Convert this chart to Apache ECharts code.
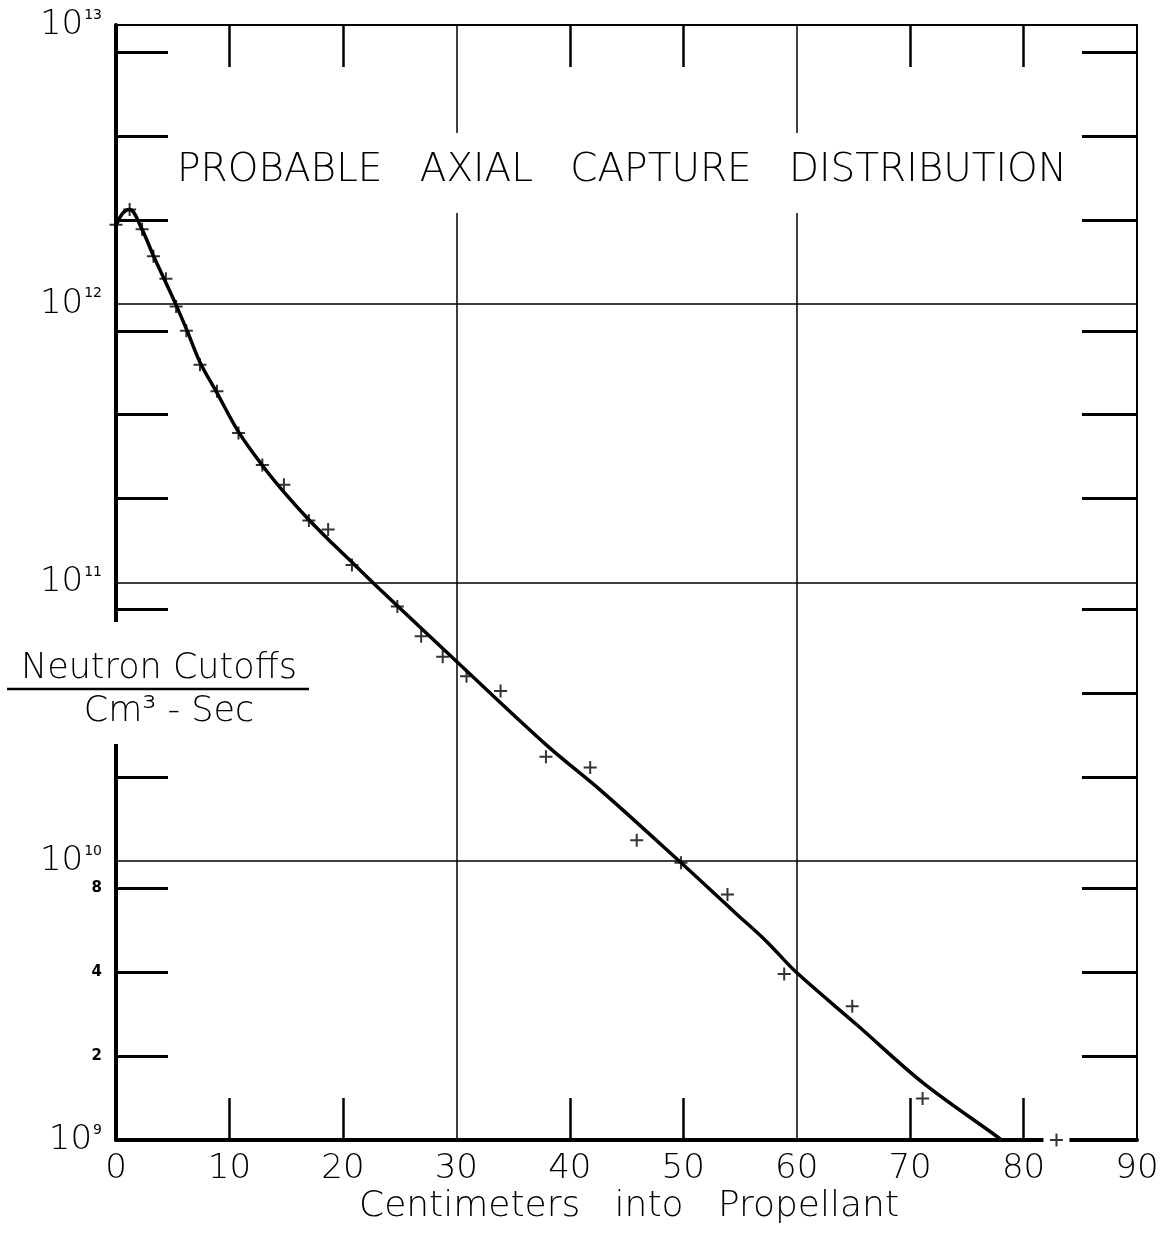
<!DOCTYPE html>
<html>
<head>
<meta charset="utf-8">
<title>Probable Axial Capture Distribution</title>
<script src="https://cdn.jsdelivr.net/npm/echarts@6/dist/echarts.min.js"></script>
<style>
  html, body { margin: 0; padding: 0; background: #fff; }
  #chart { width: 1172px; height: 1235px; }
</style>
</head>
<body>
<div id="chart"></div>
<script>
// Smooth fitted curve: depth (cm) and capture rate (cutoffs / cm^3-sec)
const curveDepth = [0, 0.6, 1.2, 2.3, 3.3, 4.4, 5.3, 6.3, 7.4, 8.9, 10.8, 12.9, 15.0, 17.0, 19.2,
  21.0, 23.3, 30, 38, 42.7, 49.5, 54.5, 57.3, 59.9, 65.4, 71.2, 77.8, 78];
const curveRate = [1.905e12, 2.113e12, 2.178e12, 1.845e12, 1.486e12, 1.189e12, 9.89e11, 7.94e11,
  6.17e11, 4.79e11, 3.47e11, 2.63e11, 2.065e11, 1.679e11, 1.365e11, 1.161e11, 9.42e10, 5.22e10,
  2.60e10, 1.80e10, 1.014e10, 6.58e9, 5.18e9, 4.02e9, 2.57e9, 1.596e9, 1.019e9, 1.0e9];

// Measured points (+)
const pointDepth = [0, 1.2, 2.3, 3.3, 4.4, 5.3, 6.2, 7.4, 8.9, 10.8, 12.9, 14.8, 17.0, 18.7, 20.8,
  24.8, 26.9, 28.8, 30.9, 33.9, 37.9, 41.8, 45.9, 49.8, 53.9, 58.9, 64.9, 71.1, 82.9];
const pointRate = [1.92e12, 2.18e12, 1.85e12, 1.48e12, 1.23e12, 9.77e11, 8.0e11, 6.04e11, 4.85e11,
  3.44e11, 2.64e11, 2.24e11, 1.67e11, 1.55e11, 1.156e11, 8.2e10, 6.41e10, 5.41e10, 4.61e10, 4.08e10,
  2.37e10, 2.17e10, 1.19e10, 9.87e9, 7.6e9, 3.94e9, 3.02e9, 1.41e9, 1.0e9];

// Axis ticks and labels
const xTickValues = [10, 20, 40, 50, 70, 80];
const yDecadeLabels = [1e9, 1e10, 1e11, 1e12, 1e13];
const yMinorLabels = [2e9, 4e9, 8e9];
const yTicks = [2e9, 4e9, 8e9, 2e10, 4e10, 8e10, 2e11, 4e11, 8e11, 2e12, 4e12, 8e12];

const FONT = "'DejaVu Sans', sans-serif";
const INK = '#000';

const chart = echarts.init(document.getElementById('chart'), null, { renderer: 'canvas' });

const plusSymbol = 'path://M5.5,0H7.5V5.5H13V7.5H7.5V13H5.5V7.5H0V5.5H5.5Z';

function yLabel(v) {
  const e = Math.round(Math.log10(v));
  if (Math.abs(v - Math.pow(10, e)) / v < 1e-6) {
    return '{b|10}{e|' + e + '}';
  }
  return '{s|' + Math.round(v / 1e9) + '}';
}

const plotBox = { left: 116, right: 35, top: 25, bottom: 95, containLabel: false };

const option = {
  backgroundColor: '#fff',
  animation: false,
  // grid 0 carries the frame, ticks and data; grid 1 only draws the guide lines
  grid: [Object.assign({}, plotBox), Object.assign({}, plotBox)],
  xAxis: [
    {
      gridIndex: 0, type: 'value', position: 'bottom', min: 0, max: 90, interval: 10,
      axisLine: { show: true, onZero: false, lineStyle: { color: INK, width: 4 } },
      axisTick: { show: true, inside: true, length: 42, customValues: xTickValues,
        lineStyle: { color: INK, width: 2.5 } },
      axisLabel: { show: true, margin: 12, color: INK, fontSize: 34, fontFamily: FONT, fontWeight: 200 },
      splitLine: { show: false }
    },
    {
      gridIndex: 0, type: 'value', position: 'top', min: 0, max: 90, interval: 10,
      axisLine: { show: true, onZero: false, lineStyle: { color: INK, width: 2 } },
      axisTick: { show: true, inside: true, length: 42, customValues: xTickValues,
        lineStyle: { color: INK, width: 2.5 } },
      axisLabel: { show: false },
      splitLine: { show: false }
    },
    {
      gridIndex: 1, type: 'value', position: 'bottom', min: 0, max: 90, interval: 30,
      axisLine: { show: false, onZero: false }, axisTick: { show: false }, axisLabel: { show: false },
      splitLine: { show: true, lineStyle: { color: INK, width: 1.5 } }
    }
  ],
  yAxis: [
    {
      gridIndex: 0, type: 'log', logBase: 10, position: 'left', min: 1e9, max: 1e13,
      axisLine: { show: true, onZero: false, lineStyle: { color: INK, width: 4 } },
      axisTick: { show: true, inside: true, length: 52, customValues: yTicks,
        lineStyle: { color: INK, width: 3 } },
      axisLabel: {
        show: true, margin: 14, customValues: yDecadeLabels.concat(yMinorLabels),
        formatter: yLabel,
        rich: {
          b: { fontSize: 34, fontFamily: FONT, fontWeight: 200, color: INK },
          e: { fontSize: 14, fontFamily: FONT, color: INK, padding: [0, 0, 20, 1] },
          s: { fontSize: 15, fontFamily: FONT, fontWeight: 'bold', color: INK }
        }
      },
      splitLine: { show: false }
    },
    {
      gridIndex: 0, type: 'log', logBase: 10, position: 'right', min: 1e9, max: 1e13,
      axisLine: { show: true, onZero: false, lineStyle: { color: INK, width: 2 } },
      axisTick: { show: true, inside: true, length: 55, customValues: yTicks,
        lineStyle: { color: INK, width: 3 } },
      axisLabel: { show: false },
      splitLine: { show: false }
    },
    {
      gridIndex: 1, type: 'log', logBase: 10, position: 'left', min: 1e9, max: 1e13, interval: 1,
      axisLine: { show: false, onZero: false }, axisTick: { show: false }, axisLabel: { show: false },
      splitLine: { show: true, lineStyle: { color: INK, width: 1.5 } }
    }
  ],
  series: [
    {
      name: 'Fitted distribution', type: 'line', xAxisIndex: 0, yAxisIndex: 0,
      data: curveDepth.map((d, i) => [d, curveRate[i]]),
      smooth: 0.35, showSymbol: false, symbol: 'none', z: 20,
      lineStyle: { color: INK, width: 3.5 }
    },
    {
      name: 'Measured', type: 'scatter', xAxisIndex: 0, yAxisIndex: 0,
      data: pointDepth.map((d, i) => [d, pointRate[i]]),
      symbol: plusSymbol, symbolSize: 13, z: 60,
      itemStyle: { color: INK }
    }
  ]
};

chart.setOption(option);

// Decorations: title, axis names, and the break in the base line around the last point
const last = pointDepth.length - 1;
const gapAt = chart.convertToPixel({ xAxisIndex: 0, yAxisIndex: 0 }, [pointDepth[last], pointRate[last]]);

chart.setOption({
  graphic: [
    { type: 'rect', z: 50, shape: { x: 170, y: 133, width: 905, height: 80 }, style: { fill: '#fff' } },
    { type: 'text', z: 51, x: 622, y: 171,
      style: { text: 'PROBABLE   AXIAL   CAPTURE   DISTRIBUTION', fill: INK, fontSize: 39,
        fontFamily: FONT, fontWeight: 200, textAlign: 'center', textVerticalAlign: 'middle' } },

    { type: 'rect', z: 50, shape: { x: 0, y: 622, width: 176, height: 122 }, style: { fill: '#fff' } },
    { type: 'text', z: 51, x: 159, y: 669,
      style: { text: 'Neutron Cutoffs', fill: INK, fontSize: 35, fontFamily: FONT, fontWeight: 200,
        textAlign: 'center', textVerticalAlign: 'middle' } },
    { type: 'line', z: 51, shape: { x1: 7, y1: 689, x2: 309, y2: 689 }, style: { stroke: INK, lineWidth: 2.5 } },
    { type: 'text', z: 51, x: 169, y: 712,
      style: { text: 'Cm\u00B3 - Sec', fill: INK, fontSize: 35, fontFamily: FONT, fontWeight: 200,
        textAlign: 'center', textVerticalAlign: 'middle' } },

    { type: 'text', z: 51, x: 629, y: 1207,
      style: { text: 'Centimeters   into   Propellant', fill: INK, fontSize: 36, fontFamily: FONT, fontWeight: 200,
        textAlign: 'center', textVerticalAlign: 'middle' } },

    { type: 'rect', z: 50, shape: { x: gapAt[0] - 13, y: gapAt[1] - 5, width: 26, height: 10 }, style: { fill: '#fff' } }
  ]
});
</script>
</body>
</html>
